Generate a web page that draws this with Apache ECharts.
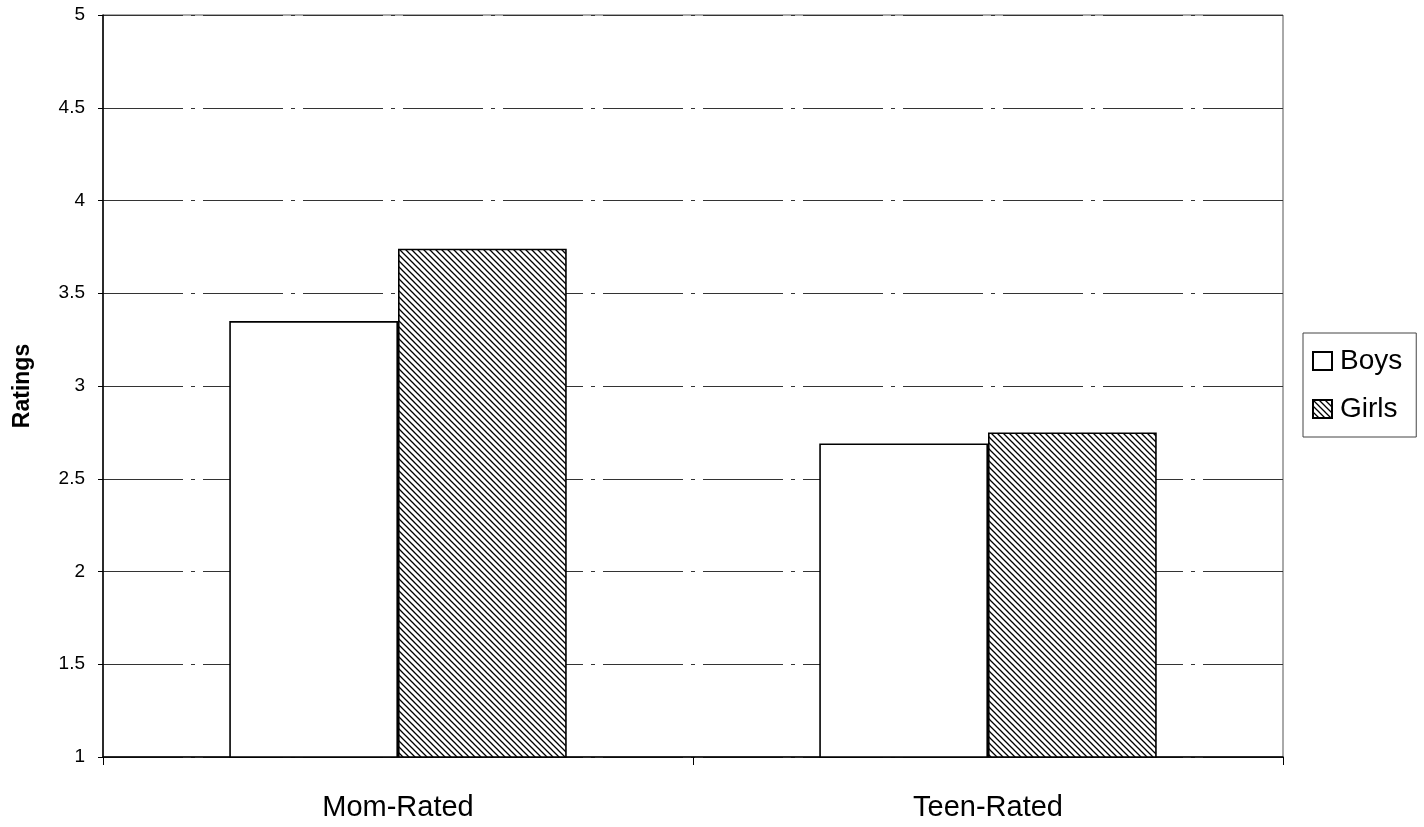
<!DOCTYPE html>
<html><head><meta charset="utf-8">
<script src="https://cdn.jsdelivr.net/npm/echarts@6/dist/echarts.min.js"></script>
<style>html,body{margin:0;padding:0;background:#fff}#c{width:1424px;height:827px}</style>
</head><body><div id="c"></div>
<script>
const categories = ['Mom-Rated', 'Teen-Rated'];
const boys = [3.35, 2.69];
const girls = [3.74, 2.75];
const yTicks = [1, 1.5, 2, 2.5, 3, 3.5, 4, 4.5, 5];

function hatch() {
  const s = 6;
  const c = document.createElement('canvas');
  c.width = s; c.height = s;
  const g = c.getContext('2d');
  g.fillStyle = '#fff'; g.fillRect(0, 0, s, s);
  g.strokeStyle = '#000'; g.lineWidth = 1.3;
  g.beginPath();
  g.moveTo(-1, -1); g.lineTo(s + 1, s + 1);
  g.moveTo(-1, s - 1); g.lineTo(1, s + 1);
  g.moveTo(s - 1, -1); g.lineTo(s + 1, 1);
  g.stroke();
  return c;
}

const FONT = 'Liberation Sans, Arial, sans-serif';
const chart = echarts.init(document.getElementById('c'));
chart.setOption({
  animation: false,
  backgroundColor: '#fff',
  grid: { left: 103, right: 141, top: 15, bottom: 70, show: true, borderColor: '#555', borderWidth: 1,
          containLabel: false, outerBoundsMode: 'none' },
  legend: {
    orient: 'vertical', left: 1303, top: 333,
    icon: 'rect',
    itemWidth: 19, itemHeight: 18, itemGap: 20,
    padding: [14, 14, 14, 9],
    borderColor: '#444', borderWidth: 1,
    textStyle: { fontFamily: FONT, fontSize: 28, color: '#000', padding: [0, 0, 0, 3] },
    data: ['Boys', 'Girls']
  },
  xAxis: {
    type: 'category', data: categories,
    axisLine: { lineStyle: { color: '#000', width: 1.5 } },
    axisTick: { show: true, length: 8, lineStyle: { color: '#000' } },
    axisLabel: { fontFamily: FONT, fontSize: 29, color: '#000', margin: 36 }
  },
  yAxis: {
    type: 'value', min: 1, max: 5, interval: 0.5,
    name: 'Ratings', nameLocation: 'middle', nameGap: 69,
    nameTextStyle: { fontFamily: FONT, fontSize: 23, fontWeight: 'bold', color: '#000' },
    axisLine: { show: true, lineStyle: { color: '#000', width: 1.5 } },
    axisTick: { show: true, length: 5, lineStyle: { color: '#000' } },
    axisLabel: { fontFamily: FONT, fontSize: 19, color: '#000', margin: 18,
      formatter: v => yTicks.includes(v) ? String(v) : '' },
    splitLine: { lineStyle: { color: '#333', width: 1, type: [80, 8, 4, 8] } }
  },
  series: [
    { name: 'Boys', type: 'bar', data: boys, barWidth: '28.6%', barGap: '0%',
      itemStyle: { color: '#fff', borderColor: '#000', borderWidth: 1.6 } },
    { name: 'Girls', type: 'bar', data: girls, barWidth: '28.6%', barGap: '0%',
      itemStyle: { color: { image: hatch(), repeat: 'repeat' }, borderColor: '#000', borderWidth: 1.6 } }
  ]
});
</script></body></html>
